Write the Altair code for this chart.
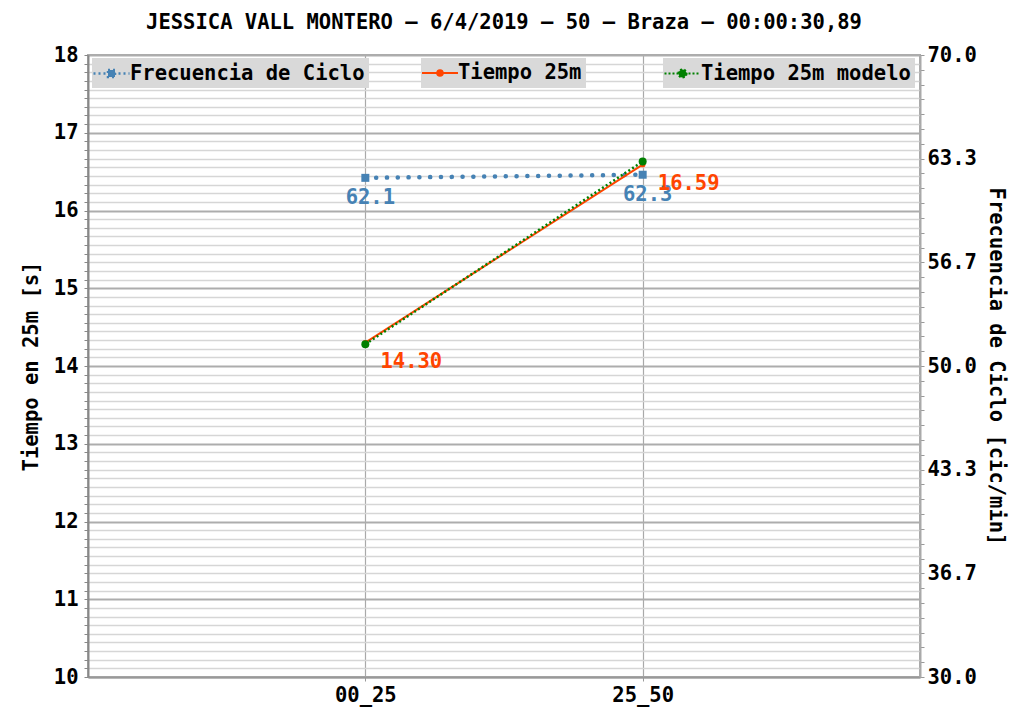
import altair as alt
import pandas as pd

# ---- data ----
tramos = ["00_25", "25_50"]
tiempo_25m = [14.30, 16.59]
tiempo_modelo = [14.28, 16.63]
frecuencia = [62.1, 62.3]

serie_frec = "Frecuencia de Ciclo"
serie_t = "Tiempo 25m"
serie_m = "Tiempo 25m modelo"

titulo = "JESSICA VALL MONTERO – 6/4/2019 – 50 – Braza – 00:00:30,89"
y_left_title = "Tiempo en 25m [s]"
y_right_title = "Frecuencia de Ciclo [cic/min]"

left_domain = [10, 18]
right_domain = [30, 70]

FONT = "DejaVu Sans Mono"
FS = 20.5
BLUE = "#4682b4"
RED = "#ff4500"
GREEN = "#008000"
W, H = 832, 622

df = pd.DataFrame({
    "tramo": tramos,
    "tiempo": tiempo_25m,
    "modelo": tiempo_modelo,
    "frec": frecuencia,
    "s_t": [serie_t] * 2,
    "s_m": [serie_m] * 2,
    "s_f": [serie_frec] * 2,
    "lab_t": [f"{v:.2f}" for v in tiempo_25m],
    "lab_f": [f"{v:.1f}" for v in frecuencia],
})
title_df = pd.DataFrame({"t": [titulo]})

# grid / tick positions (axis styling, not data)
left_vals = [round(10 + k / 9, 6) for k in range(73)]
right_vals = [round(30 + k * 40 / 42, 6) for k in range(43)]
is_int = "abs(datum.value - round(datum.value)) < 0.001"
is_major_r = "abs((datum.value - 30) * 6 / 40 - round((datum.value - 30) * 6 / 40)) < 0.001"

common_axis = dict(
    labelFont=FONT, labelFontSize=FS, labelFontWeight="bold", labelColor="black",
    titleFont=FONT, titleFontSize=FS, titleFontWeight="bold", titleColor="black",
)

left_axis = alt.Axis(
    values=left_vals,
    title=y_left_title,
    labelExpr=f"{is_int} ? format(datum.value, 'd') : ''",
    labelOverlap=False,
    grid=True,
    gridColor={"condition": {"test": is_int, "value": "#adadad"}, "value": "#d6d6d6"},
    gridWidth={"condition": {"test": is_int, "value": 2}, "value": 1.3},
    tickSize=4, tickColor="#888", domainColor="#888", domainWidth=2,
    labelPadding=6, titlePadding=12,
    **common_axis,
)

right_axis = alt.Axis(
    orient="right",
    values=right_vals,
    title=y_right_title,
    labelExpr=f"{is_major_r} ? format(datum.value, '.1f') : ''",
    labelOverlap=False,
    grid=False,
    tickSize=4, tickColor="#999", domainColor="#aaa", domainWidth=2,
    labelPadding=3, titlePadding=9,
    **common_axis,
)

x_axis = alt.Axis(
    title=None, labelAngle=0, grid=True, gridColor="#a9a9a9", gridWidth=1.2,
    tickSize=4, tickColor="#999", domainColor="#999", domainWidth=2,
    labelPadding=4,
    **common_axis,
)

X = alt.X("tramo:N", sort=tramos, scale=alt.Scale(type="point", padding=1), axis=x_axis)
YL = lambda f: alt.Y(f"{f}:Q", scale=alt.Scale(domain=left_domain, nice=False, zero=False), axis=left_axis)
YR = alt.Y("frec:Q", scale=alt.Scale(domain=right_domain, nice=False, zero=False), axis=right_axis)


def leg(x, path, color, dash=None, width=2.0):
    kw = dict(
        orient="none", legendX=x, legendY=3, title=None, fillColor="#d9d9d9",
        padding=4, symbolType=path, symbolSize=400, symbolStrokeWidth=width,
        symbolFillColor=color, symbolStrokeColor=color, symbolOpacity=1,
        labelFont=FONT, labelFontSize=FS, labelFontWeight="bold", labelColor="black",
        labelOffset=11, labelLimit=500,
    )
    if dash:
        kw["symbolDash"] = dash
    return alt.Legend(**kw)


# legend glyphs: a short line with its marker (unit = 10 px)
sq = "M-1.4,0H2.2M0.05,-0.35H0.75V0.35H0.05Z"
circ_s = "M-1.4,0H2.2M0.68,0A0.28,0.28 0 1 1 0.12,0A0.28,0.28 0 1 1 0.68,0Z"
circ_l = "M-1.4,0H2.2M0.8,0A0.4,0.4 0 1 1 0,0A0.4,0.4 0 1 1 0.8,0Z"

base = alt.Chart(df)

blue = base.mark_line(
    strokeDash=[0.1, 10.7], strokeCap="round", strokeWidth=4.5,
    point=alt.OverlayMarkDef(shape="square", size=64, filled=True, opacity=1),
).encode(
    x=X, y=YR,
    color=alt.Color("s_f:N", scale=alt.Scale(domain=[serie_frec], range=[BLUE]),
                    legend=leg(4, sq, BLUE, dash=[2, 3], width=2.5)),
)
blue_text = base.mark_text(
    dx=5, dy=20, color=BLUE, font=FONT, fontSize=FS, fontWeight="bold"
).encode(x=X, y=YR, text="lab_f:N")

red = base.mark_line(
    strokeWidth=2,
    point=alt.OverlayMarkDef(shape="circle", size=30, filled=True, opacity=1),
).encode(
    x=X, y=YL("tiempo"),
    color=alt.Color("s_t:N", scale=alt.Scale(domain=[serie_t], range=[RED]),
                    legend=leg(333, circ_s, RED)),
)
red_text = base.mark_text(
    dx=46, dy=19, color=RED, font=FONT, fontSize=FS, fontWeight="bold"
).encode(x=X, y=YL("tiempo"), text="lab_t:N")

green = base.mark_line(
    strokeDash=[2, 2.5], strokeWidth=2.5,
    point=alt.OverlayMarkDef(shape="circle", size=64, filled=True, opacity=1),
).encode(
    x=X, y=YL("modelo"),
    color=alt.Color("s_m:N", scale=alt.Scale(domain=[serie_m], range=[GREEN]),
                    legend=leg(575, circ_l, GREEN, dash=[2, 2], width=2.2)),
)

# chart title drawn as a text placed above the plot area
title_text = alt.Chart(title_df).mark_text(
    font=FONT, fontSize=FS, fontWeight="bold", color="black",
    align="center", baseline="alphabetic",
).encode(text="t:N", x=alt.value(W / 2), y=alt.value(-26))

right_layer = alt.layer(blue, blue_text)
left_layer = alt.layer(red, red_text, green).resolve_scale(color="independent")

chart = alt.layer(right_layer, left_layer, title_text).resolve_scale(
    y="independent", color="independent"
).properties(
    width=W, height=H,
    padding={"left": 80, "top": 47, "right": 93, "bottom": 31},
    autosize=alt.AutoSizeParams(type="none"),
).configure_view(stroke="#aaa", strokeWidth=2)

chart.save("out.html", embed_options={"renderer": "svg", "actions": False})
